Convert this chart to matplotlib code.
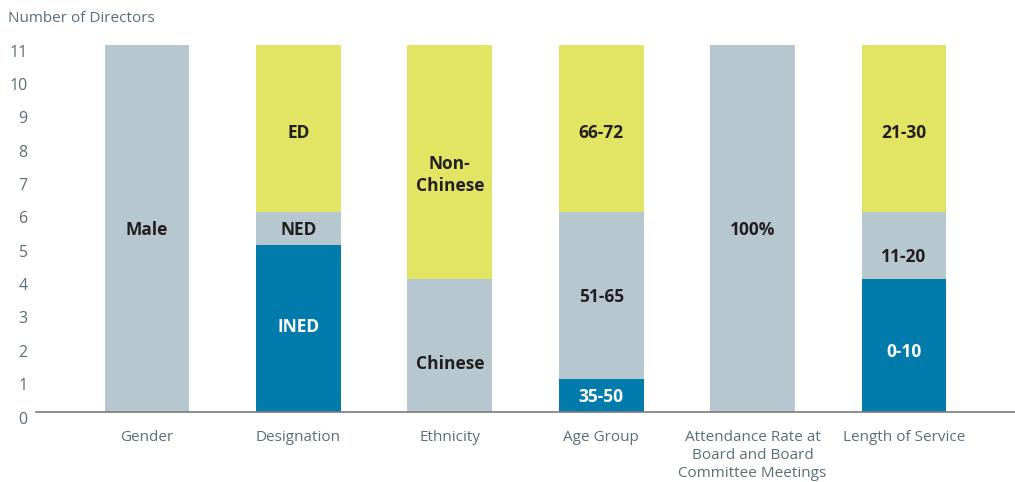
import matplotlib.pyplot as plt
import matplotlib.transforms as mtrans

plt.rcParams['font.family'] = ['Open Sans', 'DejaVu Sans']

categories = ['Gender', 'Designation', 'Ethnicity', 'Age Group',
              'Attendance Rate at\nBoard and Board\nCommittee Meetings',
              'Length of Service']

# stacked segments per category, bottom to top: (label, count, colour key)
segments = [
    [('Male', 11, 'grey')],
    [('INED', 5, 'blue'), ('NED', 1, 'grey'), ('ED', 5, 'yellow')],
    [('Chinese', 4, 'grey'), ('Non-\nChinese', 7, 'yellow')],
    [('35-50', 1, 'blue'), ('51-65', 5, 'grey'), ('66-72', 5, 'yellow')],
    [('100%', 11, 'grey')],
    [('0-10', 4, 'blue'), ('11-20', 2, 'grey'), ('21-30', 5, 'yellow')],
]

yticks = list(range(0, 12))

colours = {'grey': '#b7c7cf', 'blue': '#007bac', 'yellow': '#e1e563'}
text_colours = {'grey': '#231f20', 'blue': 'white', 'yellow': '#231f20'}
axis_text = '#5a6e78'

# small manual nudges for labels that are not centred in their segment
label_shift = {'Chinese': -0.5, 'Non-\nChinese': -0.35, 'INED': 0.1,
               'ED': -0.1, '66-72': -0.1, '21-30': -0.1,
               '11-20': -0.3, '0-10': -0.15}

fig = plt.figure(figsize=(10.15, 4.82), dpi=100)
ax = fig.add_axes([36 / 1015, 70 / 482, 979 / 1015, 367 / 482])

for i, stack in enumerate(segments):
    bottom = 0
    for label, value, ckey in stack:
        ax.bar(i, value, bottom=bottom, width=0.56, color=colours[ckey], linewidth=0)
        y = bottom + value / 2 - 0.05 + label_shift.get(label, 0)
        ax.text(i, y, label, ha='center', va='center', fontsize=12.5,
                fontweight='bold', color=text_colours[ckey], linespacing=1.3)
        bottom += value

ax.set_xlim(-0.733, 5.733)
ax.set_ylim(0, 11)

for s in ['top', 'right', 'left']:
    ax.spines[s].set_visible(False)
ax.spines['bottom'].set_color('#7a7a7a')
ax.spines['bottom'].set_linewidth(1.2)

ax.set_xticks(range(len(categories)))
ax.set_xticklabels(categories, fontsize=11, color=axis_text, linespacing=1.25, va='top')
ax.tick_params(axis='x', length=0, pad=13)

ax.set_yticks(yticks)
ax.set_yticklabels([str(t) for t in yticks], fontsize=11.5, color=axis_text)
ax.tick_params(axis='y', length=0, pad=6)

# tick labels sit a little below their values in the reference
offset = mtrans.ScaledTranslation(0, -4 / 72, fig.dpi_scale_trans)
for lbl in ax.get_yticklabels():
    lbl.set_transform(lbl.get_transform() + offset)

fig.text(8 / 1015, 1 - 19 / 482, 'Number of Directors', fontsize=11, color=axis_text,
         va='center', ha='left')

fig.savefig('out.png', dpi=100)
